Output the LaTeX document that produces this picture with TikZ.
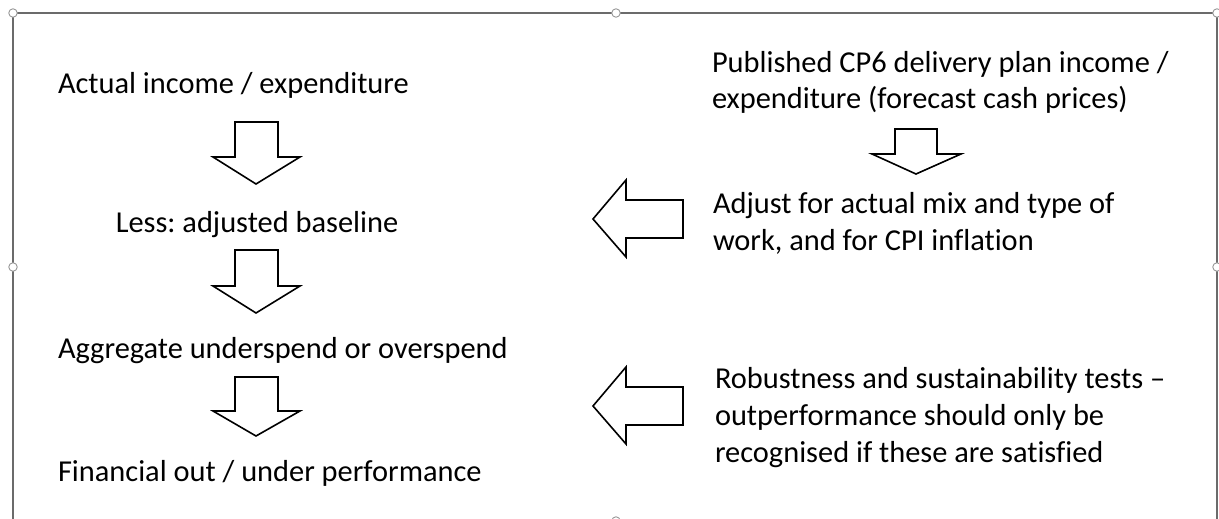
\documentclass[tikz,border=0pt]{standalone}
\usepackage{fontspec}
\setmainfont{Carlito}[Ligatures=NoCommon]
\frenchspacing
\begin{document}
\begin{tikzpicture}[x=1pt,y=-1pt,
  label/.style={anchor=base west,inner sep=0pt,outer sep=0pt,align=left,
    font=\fontsize{30.4}{36.8}\selectfont},
  blockarrow/.style={draw=black,line width=1.6pt,fill=white,line join=miter},
  frameline/.style={draw=black!58,line width=2pt},
  handle/.style={circle,draw=black!40,fill=white,line width=0.9pt,
    minimum size=8.5pt,inner sep=0pt}]
\useasboundingbox (0,0) rectangle (1219,519);
\clip (0,0) rectangle (1219,519);
\fill[white] (0,0) rectangle (1219,519);

% outer frame with its resize handles
\draw[frameline] (13,13) rectangle (1217,521);
\foreach \hx/\hy [count=\i] in {13/13,616/13,1217/13,13/267,1217/267,616/521}
  \node[handle] (h\i) at (\hx,\hy) {};

% left column (single lines, placed on their baselines)
\node[label] (actual) at (58,94) {Actual income / expenditure};
\node[label,anchor=base] (less) at (257,232) {Less: adjusted baseline};
\node[label] (aggr) at (58,358) {Aggregate underspend or overspend};
\node[label] (fin) at (58,481) {Financial out / under performance};

% right column (multi-line, placed on the baseline of the last line)
\node[label] (plan) at (712,109) {Published CP6 delivery plan income /\\expenditure (forecast cash prices)};
\node[label] (adjust) at (713,250) {Adjust for actual mix and type of\\work, and for CPI inflation};
\node[label] (tests) at (715,462) {Robustness and sustainability tests --\\outperformance should only be\\recognised if these are satisfied};

% downward block arrows, left column
\foreach \top/\base/\tip in {122/157/184, 250/286/313, 377/411/436}
  \draw[blockarrow] (235,\top) -- (278,\top) -- (278,\base) -- (300,\base)
    -- (256,\tip) -- (213,\base) -- (235,\base) -- cycle;

% downward block arrow, right column
\draw[blockarrow] (895,129) -- (937,129) -- (937,154) -- (961,154)
  -- (916,174) -- (872,154) -- (895,154) -- cycle;

% leftward block arrows
\foreach \cy in {219, 406}
  \draw[blockarrow] (683,\cy-19) -- (683,\cy+19) -- (626,\cy+19) -- (626,\cy+38)
    -- (593,\cy) -- (626,\cy-39) -- (626,\cy-19) -- cycle;
\end{tikzpicture}
\end{document}
